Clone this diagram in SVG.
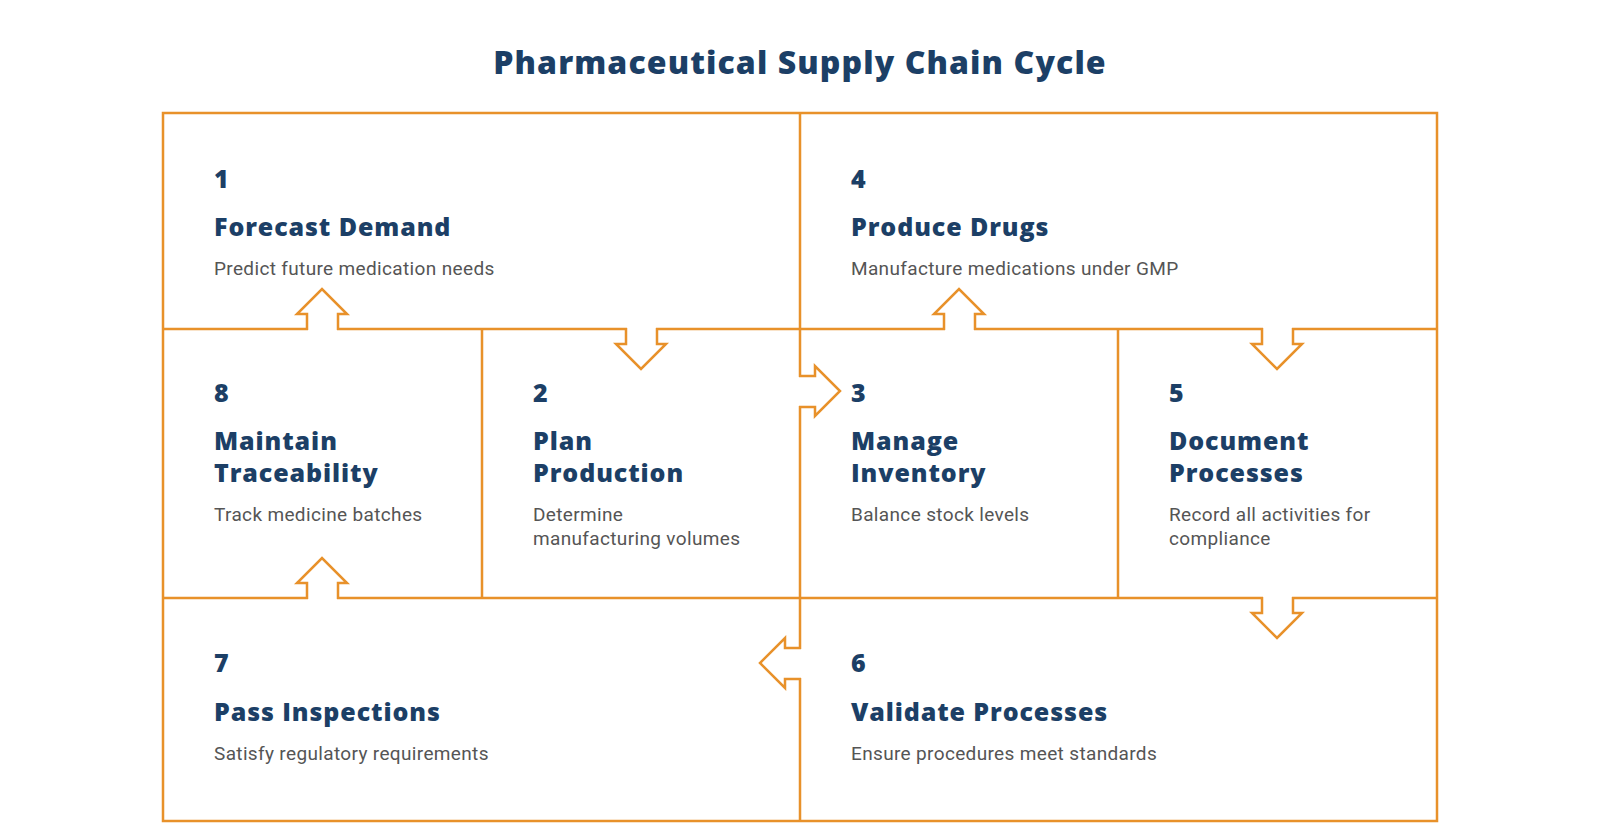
<svg xmlns="http://www.w3.org/2000/svg" width="1600" height="840" viewBox="0 0 1600 840">
<style>
.ln{stroke:#e8912a;stroke-width:2.5;fill:none}
.gap{stroke:#fff;stroke-width:5}
.ar{stroke:#e8912a;stroke-width:2.5;fill:#fff;stroke-linejoin:miter}
.num{font-family:"Open Sans",sans-serif;font-weight:800;font-size:25px;fill:#1c3f66}
.tt{font-family:"Open Sans",sans-serif;font-weight:800;font-size:25px;letter-spacing:0.9px;fill:#1c3f66}
.ds{font-family:Roboto,"Liberation Sans",sans-serif;font-size:19px;letter-spacing:0.35px;fill:#555}
.h{font-family:"Open Sans",sans-serif;font-weight:800;font-size:32px;letter-spacing:1.1px;fill:#1c3f66}
</style>
<rect width="1600" height="840" fill="#fff"/>
<text class="h" x="800" y="74" text-anchor="middle">Pharmaceutical Supply Chain Cycle</text>
<g id="connectors">
<rect class="ln" x="163" y="113" width="1274" height="708"/>
<line class="ln" x1="163" y1="329" x2="1437" y2="329"/>
<line class="ln" x1="163" y1="598" x2="1437" y2="598"/>
<line class="ln" x1="800" y1="113" x2="800" y2="821"/>
<line class="ln" x1="482" y1="329" x2="482" y2="598"/>
<line class="ln" x1="1118" y1="329" x2="1118" y2="598"/>
<line class="gap" x1="308" y1="329" x2="337" y2="329"/>
<path class="ar" d="M307,330 V314 H297 L322,289 L347,314 H338 V330"/>
<line class="gap" x1="945" y1="329" x2="974" y2="329"/>
<path class="ar" d="M944,330 V314 H934 L959,289 L984,314 H975 V330"/>
<line class="gap" x1="308" y1="598" x2="337" y2="598"/>
<path class="ar" d="M307,599 V583 H297 L322,558 L347,583 H338 V599"/>
<line class="gap" x1="627" y1="329" x2="656" y2="329"/>
<path class="ar" d="M626,328 V344 H616 L641,369 L666,344 H657 V328"/>
<line class="gap" x1="1263" y1="329" x2="1292" y2="329"/>
<path class="ar" d="M1262,328 V344 H1252 L1277,369 L1302,344 H1293 V328"/>
<line class="gap" x1="1263" y1="598" x2="1292" y2="598"/>
<path class="ar" d="M1262,597 V613 H1252 L1277,638 L1302,613 H1293 V597"/>
<line class="gap" x1="800" y1="377" x2="800" y2="406"/>
<path class="ar" d="M799,376 H815 V366 L840,391 L815,416 V407 H799"/>
<line class="gap" x1="800" y1="649" x2="800" y2="678"/>
<path class="ar" d="M801,648 H785 V638 L760,663 L785,688 V679 H801"/>
</g>
<g id="n1"><text class="num" x="214" y="188">1</text><text class="tt" x="214" y="236">Forecast Demand</text><text class="ds" x="214" y="275">Predict future medication needs</text></g>
<g id="n4"><text class="num" x="851" y="188">4</text><text class="tt" x="851" y="236">Produce Drugs</text><text class="ds" x="851" y="275">Manufacture medications under GMP</text></g>
<g id="n8"><text class="num" x="214" y="402">8</text><text class="tt" x="214" y="450">Maintain</text><text class="tt" x="214" y="482">Traceability</text><text class="ds" x="214" y="521">Track medicine batches</text></g>
<g id="n2"><text class="num" x="533" y="402">2</text><text class="tt" x="533" y="450">Plan</text><text class="tt" x="533" y="482">Production</text><text class="ds" x="533" y="521">Determine</text><text class="ds" x="533" y="545">manufacturing volumes</text></g>
<g id="n3"><text class="num" x="851" y="402">3</text><text class="tt" x="851" y="450">Manage</text><text class="tt" x="851" y="482">Inventory</text><text class="ds" x="851" y="521">Balance stock levels</text></g>
<g id="n5"><text class="num" x="1169" y="402">5</text><text class="tt" x="1169" y="450">Document</text><text class="tt" x="1169" y="482">Processes</text><text class="ds" x="1169" y="521">Record all activities for</text><text class="ds" x="1169" y="545">compliance</text></g>
<g id="n7"><text class="num" x="214" y="672">7</text><text class="tt" x="214" y="721">Pass Inspections</text><text class="ds" x="214" y="760">Satisfy regulatory requirements</text></g>
<g id="n6"><text class="num" x="851" y="672">6</text><text class="tt" x="851" y="721">Validate Processes</text><text class="ds" x="851" y="760">Ensure procedures meet standards</text></g>
</svg>
